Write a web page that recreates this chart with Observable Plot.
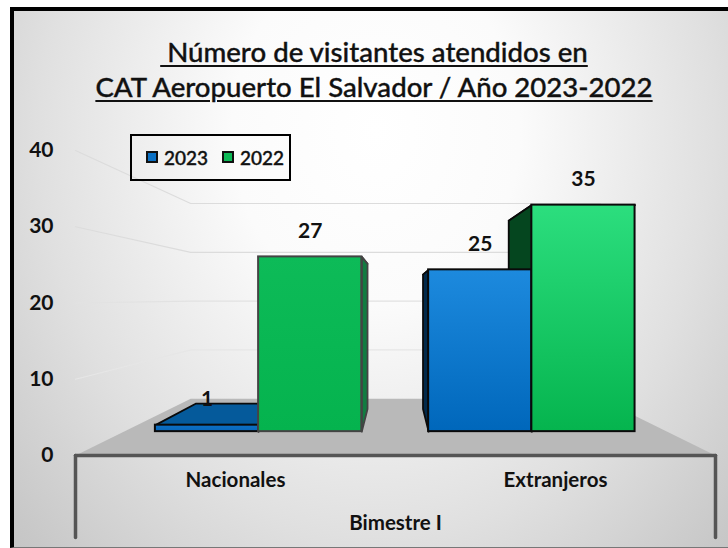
<!DOCTYPE html>
<html><head><meta charset="utf-8">
<script src="https://cdn.jsdelivr.net/npm/d3@7"></script>
<script src="https://cdn.jsdelivr.net/npm/@observablehq/plot@0.6"></script>
<style>
html,body{margin:0;padding:0;background:#fff;overflow:hidden}
#page{position:absolute;left:0;top:0;width:728px;height:548px;overflow:hidden}
#panel{position:absolute;left:10px;top:7px;width:718px;height:541px;box-sizing:border-box;border-top:4px solid #000;border-left:4px solid #000;border-bottom:1px solid #777;
 background:radial-gradient(ellipse 480px 580px at 362px 120px,#fff 0%,#fbfbfb 30%,#e0e0e0 70%,#c8c8c8 100%,#b8b8b8 125%)}
#title{position:absolute;left:0;top:34px;width:748px;text-align:center;font:500 27.6px/35px "Lato",sans-serif;color:#111;-webkit-text-stroke:.35px #111;white-space:pre;text-decoration:underline;text-decoration-thickness:2px;text-underline-offset:3px}
#chart{position:absolute;left:0;top:110px}
#legend{position:absolute;left:130px;top:134px;width:161px;height:47px;box-sizing:border-box;border:2px solid #000;font:500 19px "Lato",sans-serif;color:#111;-webkit-text-stroke:.4px #111}
#legend i{position:absolute;top:15px;width:12px;height:12px;box-sizing:border-box;border:2px solid #111}
#legend span{position:absolute;top:10px}
svg text{font-family:"Lato",sans-serif}
</style></head><body>
<svg width="0" height="0" style="position:absolute"><defs>
<linearGradient id="gNac23" x1="0" y1="0" x2="0" y2="1"><stop offset="0" stop-color="#0d70c4"/><stop offset="1" stop-color="#0867ba"/></linearGradient>
<linearGradient id="gNac22" x1="0" y1="0" x2="0" y2="1"><stop offset="0" stop-color="#0dbb58"/><stop offset="1" stop-color="#05b34e"/></linearGradient>
<linearGradient id="gExt23" x1="0" y1="0" x2="0" y2="1"><stop offset="0" stop-color="#1d8ade"/><stop offset="1" stop-color="#0067bb"/></linearGradient>
<linearGradient id="gExt22" x1="0" y1="0" x2="0" y2="1"><stop offset="0" stop-color="#2cde7e"/><stop offset="1" stop-color="#05b44e"/></linearGradient>
</defs></svg>
<div id="page">
<div id="panel"></div>
<div id="title"> Número de visitantes atendidos en
CAT Aeropuerto El Salvador / Año 2023-2022</div>
<div id="chart"></div>
<div id="legend"><i style="left:14px;background:#0a70c4"></i><span style="left:32px">2023</span><i style="left:90px;background:#0cb956"></i><span style="left:108px">2022</span></div>
</div>
<script>
const categories = ["Nacionales", "Extranjeros"];
const series = ["2023", "2022"];
const values2023 = [1, 25];
const values2022 = [27, 35];
const yTicks = [0, 10, 20, 30, 40];
const groupLabel = "Bimestre I";

// oblique 3D projection: u = slot position at floor's front edge, v = value, d = depth (0 front, 1 back wall)
const shrink = 0.36, rise = 7.45;
const px = (u, d) => u * (1 - shrink * d);
const py = (v, d) => v * (1 - shrink * d) + rise * d;
const dFront = 0.42, dBack = 0.82, barW = 0.38;

const looks = {
  "Nacionales|2023": {front: "url(#gNac23)", top: "#055a9b", side: "#05406f", edge: "#0a0a0a"},
  "Nacionales|2022": {front: "url(#gNac22)", top: "#0a7a3e", side: "#117c41", edge: "#444"},
  "Extranjeros|2023": {front: "url(#gExt23)", top: "#014a85", side: "#02294a", edge: "#0a0a0a"},
  "Extranjeros|2022": {front: "url(#gExt22)", top: "#06501f", side: "#05461f", edge: "#0a0a0a"}
};
const bars = [];
categories.forEach((c, i) => {
  const center = i === 0 ? -0.504 : 0.502;
  [values2023[i], values2022[i]].forEach((v, j) => {
    const u1 = center + (j === 0 ? -barW : 0), u2 = u1 + barW;
    bars.push({c, s: series[j], v, u1, u2, sideU: center < 0 ? u2 : u1, ...looks[c + "|" + series[j]]});
  });
});
// top and visible side of every bar, drawn behind the front faces
const faces = [];
bars.forEach((b, k) => {
  [[b.u1, dFront, b.v], [b.u2, dFront, b.v], [b.u2, dBack, b.v], [b.u1, dBack, b.v], [b.u1, dFront, b.v]]
    .forEach(([u, d, v]) => faces.push({id: k + "t", x: px(u, d), y: py(v, d), fill: b.top, edge: b.edge}));
  [[b.sideU, dFront, 0], [b.sideU, dBack, 0], [b.sideU, dBack, b.v], [b.sideU, dFront, b.v], [b.sideU, dFront, 0]]
    .forEach(([u, d, v]) => faces.push({id: k + "s", x: px(u, d), y: py(v, d), fill: b.side, edge: b.edge}));
});
const floor = [[-1, 0], [-1, 1], [1, 1], [1, 0]].map(([u, d]) => ({x: px(u, d), y: py(0, d)}));
const grid = yTicks.slice(1).flatMap(t => [[-1, 0], [-1, 1], [1, 1]].map(([u, d]) => ({t, x: px(u, d), y: py(t, d)})));
const bottom = -10.75;

const fronts = bars.map(b => ({...b,
  x1: px(b.u1, dFront), x2: px(b.u2, dFront), y1: py(0, dFront), y2: py(b.v, dFront)}));

const chart = Plot.plot({
  width: 728, height: 438,
  marginLeft: 75, marginRight: 13, marginTop: 40, marginBottom: 93,
  style: {background: "transparent", overflow: "visible"},
  x: {domain: [-1, 1], range: [75, 715], axis: null},
  y: {domain: [0, 40], range: [345, 40]},
  color: {type: "identity"},
  marks: [
    Plot.axisY({ticks: yTicks, tickSize: 0, tickPadding: 22, tickFormat: d => d, fontSize: 21, fontWeight: 700, label: null, fill: "#111"}),
    Plot.line(grid, {x: "x", y: "y", z: "t", stroke: d => d.t === 10 ? "#e6e6e6" : d.t === 20 ? "#e2e2e2" : "#dcdcdc", strokeWidth: 1.2}),
    Plot.line([...floor, floor[0]], {x: "x", y: "y", fill: "#b9b9b9", stroke: "none"}),
    Plot.line(faces, {x: "x", y: "y", z: "id", fill: "fill", stroke: "edge", strokeWidth: 1.8}),
    Plot.rect(fronts, {x1: "x1", x2: "x2", y1: "y1", y2: "y2", fill: "front", stroke: "edge", strokeWidth: 2}),
    Plot.line([{x: -1, y: 0}, {x: 1, y: 0}], {x: "x", y: "y", stroke: "#555", strokeWidth: 3.5}),
    Plot.line([{x: -1, y: 0}, {x: -1, y: bottom}], {x: "x", y: "y", stroke: "#555", strokeWidth: 3.5}),
    Plot.line([{x: 1, y: 0}, {x: 1, y: bottom}], {x: "x", y: "y", stroke: "#555", strokeWidth: 3.5}),
    Plot.text(fronts, {x: d => (d.x1 + d.x2) / 2, y: "y2", text: "v", dy: -26, fontSize: 21, fontWeight: 700, fill: "#111"}),
    Plot.text(categories, {x: (d, i) => i === 0 ? -0.5 : 0.5, y: -3.3, text: d => d, fontSize: 20.5, fontWeight: 700, fill: "#111"}),
    Plot.text([groupLabel], {x: 0, y: -8.9, text: d => d, fontSize: 20.5, fontWeight: 700, fill: "#111"})
  ]
});
document.getElementById("chart").append(chart);
</script>
</body></html>
